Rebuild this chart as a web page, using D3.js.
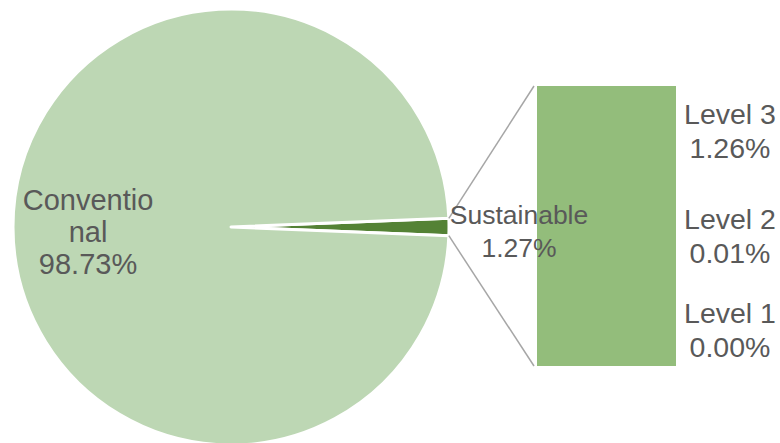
<!DOCTYPE html>
<html>
<head>
<meta charset="utf-8">
<script src="https://cdn.jsdelivr.net/npm/d3@7"></script>
<style>
  html, body { margin: 0; padding: 0; background: #ffffff; }
  svg { display: block; }
  text { font-family: "Liberation Sans", Arial, sans-serif; fill: #595959; }
</style>
</head>
<body>
<svg id="chart" width="780" height="443"></svg>
<script>
// ---- data ----
const pieCategories = ["Sustainable", "Conventional"];
const pieValues = [1.27, 98.73];
const pieLabels = [["Sustainable", "1.27%"], ["Conventio", "nal", "98.73%"]];

const barCategories = ["Level 1", "Level 2", "Level 3"];
const barValues = [0.00, 0.01, 1.26];
const barLabels = [["Level 1", "0.00%"], ["Level 2", "0.01%"], ["Level 3", "1.26%"]];

// ---- layout ----
const svg = d3.select("#chart");
const cx = 231, cy = 227, R = 218;
const colors = { Sustainable: "#548235", Conventional: "#bdd7b4" };
const barColor = "#93bd7b";

const sustainableTotal = d3.sum(barValues);
const totalPie = d3.sum(pieValues);
const a = 2 * Math.PI * pieValues[0] / totalPie;
const start = Math.PI / 2 - a / 2;

const pie = d3.pie().sort(null).value(d => d)
  .startAngle(start).endAngle(start + 2 * Math.PI);
const arcs = pie(pieValues);
const arc = d3.arc().innerRadius(0).outerRadius(R);

const g = svg.append("g").attr("transform", `translate(${cx},${cy})`);
g.selectAll("path").data(arcs).join("path")
  .attr("d", arc)
  .attr("fill", (d, i) => colors[pieCategories[i]])
  .attr("stroke", "#ffffff")
  .attr("stroke-width", 3)
  .attr("stroke-linejoin", "round");

// ---- bar ----
const barX = 537, barW = 139;
const y = d3.scaleLinear().domain([0, sustainableTotal]).range([366, 86]);
let cum = 0;
const stacks = barValues.map(v => { const s = { y0: cum, y1: cum + v }; cum += v; return s; });
svg.append("g").attr("shape-rendering", "crispEdges").selectAll("rect").data(stacks).join("rect")
  .attr("x", barX)
  .attr("width", barW)
  .attr("y", d => y(d.y1))
  .attr("height", d => y(d.y0) - y(d.y1))
  .attr("fill", barColor);

// ---- connector lines ----
const sA = arcs[0];
function pt(angle) { return [cx + R * Math.sin(angle), cy - R * Math.cos(angle)]; }
const pTop = pt(sA.startAngle), pBot = pt(sA.endAngle);
svg.append("line").attr("x1", pTop[0]).attr("y1", pTop[1])
  .attr("x2", barX - 3).attr("y2", y(sustainableTotal))
  .attr("stroke", "#a6a6a6").attr("stroke-width", 1.5);
svg.append("line").attr("x1", pBot[0]).attr("y1", pBot[1])
  .attr("x2", barX - 3).attr("y2", y(0))
  .attr("stroke", "#a6a6a6").attr("stroke-width", 1.5);

// ---- labels ----
const fs = 28.5;
function multiLabel(lines, x, baseline, lh, size) {
  const t = svg.append("text").attr("text-anchor", "middle")
    .attr("font-size", size);
  lines.forEach((l, i) => t.append("tspan").attr("x", x).attr("y", baseline + i * lh).text(l));
}
multiLabel(pieLabels[1], 88, 210, 32, 29);
multiLabel(pieLabels[0], 519, 224, 33, 26.5);
const barLabelPos = [[730, 323], [730, 229], [730, 124]];
barLabels.forEach((l, i) => multiLabel(l, barLabelPos[i][0], barLabelPos[i][1], 34, fs));
</script>
</body>
</html>
